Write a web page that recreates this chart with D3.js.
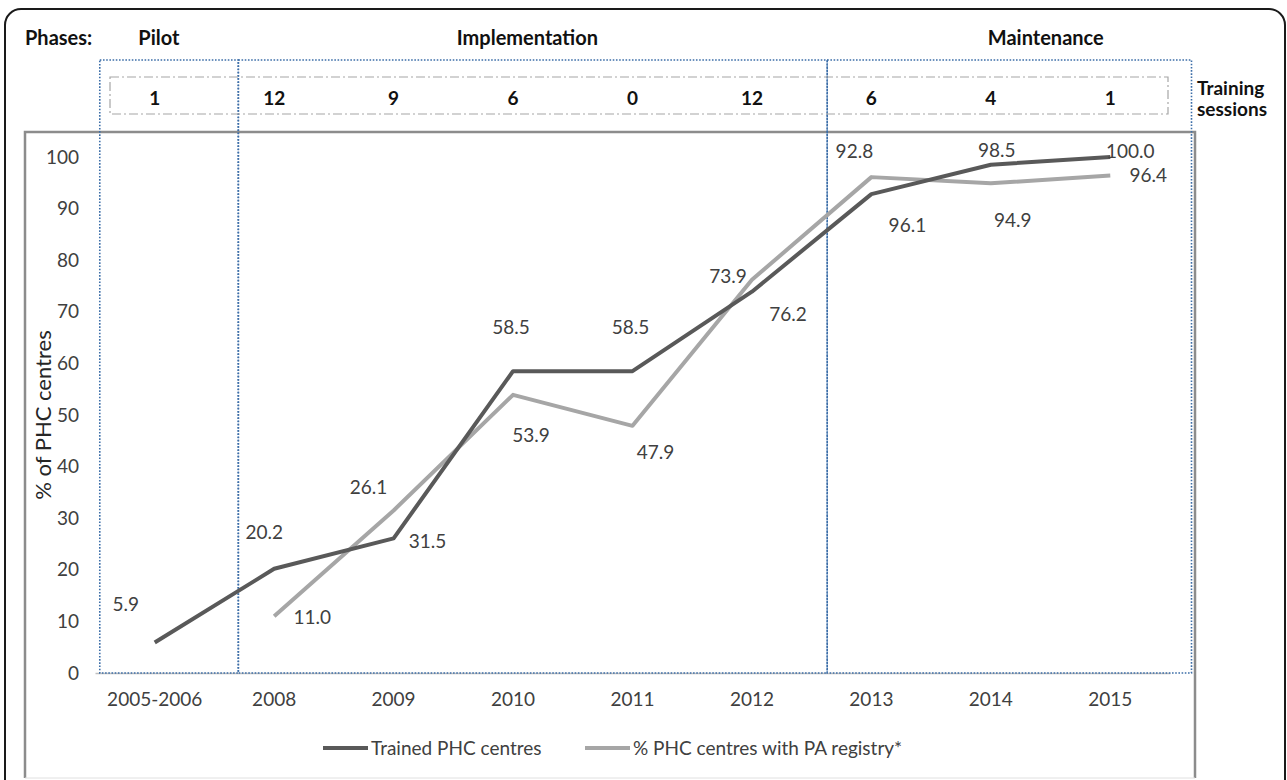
<!DOCTYPE html>
<html>
<head>
<meta charset="utf-8">
<script src="https://cdn.jsdelivr.net/npm/d3@7/dist/d3.min.js"></script>
<style>
  html, body { margin: 0; padding: 0; background: #fff; }
  svg { display: block; font-family: Lato, "Open Sans", sans-serif; }
</style>
</head>
<body>
<svg id="chart" width="1287" height="780"></svg>
<script>
// Years on the x axis
const categories = ["2005-2006", "2008", "2009", "2010", "2011", "2012", "2013", "2014", "2015"];
// % of PHC centres trained
const trainedValues = [5.9, 20.2, 26.1, 58.5, 58.5, 73.9, 92.8, 98.5, 100.0];
// % of PHC centres with a PA registry (none in the pilot year)
const registryValues = [null, 11.0, 31.5, 53.9, 47.9, 76.2, 96.1, 94.9, 96.4];
// Training sessions held per year
const trainingSessions = [1, 12, 9, 6, 0, 12, 6, 4, 1];
// Y axis ticks
const yTicks = [0, 10, 20, 30, 40, 50, 60, 70, 80, 90, 100];
// Programme phases
const phaseNames = ["Pilot", "Implementation", "Maintenance"];
const seriesNames = ["Trained PHC centres", "% PHC centres with PA registry*"];

// ---- layout (positions in band units, label nudges in px) ----
const phaseEdges = [0.04, 1.2, 6.13, 9.18];
const phaseLabelAt = [0.535, 3.62, 7.96];
const trainedLabelShift = [[-29,-38],[-10,-36],[-25,-51],[-2,-44],[-2,-44],[-24,-15],[-17,-43],[6,-14],[20,-6]];
const registryLabelShift = [null,[38,1],[34,31],[18,40],[23,27],[36,35],[36,48],[22,37],[38,0]];

const svg = d3.select("#chart");
const darkCol = "#595959", lightCol = "#a6a6a6", textCol = "#404040";

const x = d3.scaleBand().domain(categories).range([95, 1170]).paddingInner(0).paddingOuter(0);
const cx = c => x(c) + x.bandwidth() / 2;
const u = d3.scaleLinear().domain([0, categories.length]).range([95, 1170]);
const y = d3.scaleLinear().domain([0, 100]).range([673, 157]);

// outer frame
svg.append("rect").attr("x", 5).attr("y", 9).attr("width", 1280).attr("height", 820)
  .attr("rx", 16).attr("fill", "none").attr("stroke", "#1a1a1a").attr("stroke-width", 2);

// plot frame
svg.append("path").attr("d", "M25,778 L25,132 L1195,132 L1195,778")
  .attr("fill", "none").attr("stroke", "#8c8c8c").attr("stroke-width", 2.5);
svg.append("line").attr("x1", 25).attr("x2", 1195).attr("y1", 778).attr("y2", 778)
  .attr("stroke", "#e0e0e0").attr("stroke-width", 1);

// x axis
const xAxis = svg.append("g").attr("transform", "translate(0,673)")
  .call(d3.axisBottom(x).tickSize(0).tickPadding(20));
xAxis.select(".domain").attr("stroke", "#bfbfbf").attr("stroke-width", 1.5);
xAxis.selectAll("text").attr("font-size", 19).attr("fill", textCol).attr("font-family", "Lato");

// y axis
const yAxis = svg.append("g").attr("transform", "translate(95,0)")
  .call(d3.axisLeft(y).tickValues(yTicks).tickSize(0).tickPadding(16));
yAxis.select(".domain").remove();
yAxis.selectAll("text").attr("font-size", 19).attr("fill", textCol).attr("font-family", "Lato");

svg.append("text").attr("transform", "translate(43,415) rotate(-90)")
  .attr("text-anchor", "middle").attr("dy", "0.35em")
  .attr("font-size", 22).attr("fill", "#262626").text("% of PHC centres");

// phase boxes
const phaseBox = svg.append("g");
phaseNames.forEach((p, i) => {
  phaseBox.append("rect")
    .attr("x", u(phaseEdges[i])).attr("y", 60)
    .attr("width", u(phaseEdges[i + 1]) - u(phaseEdges[i])).attr("height", 673 - 60)
    .attr("fill", "none").attr("stroke", "#3c6ea8").attr("stroke-width", 1.6)
    .attr("stroke-dasharray", "1.6,1.6");
  svg.append("text").attr("x", u(phaseLabelAt[i])).attr("y", 45)
    .attr("text-anchor", "middle").attr("font-size", 20).attr("font-weight", 700)
    .attr("fill", "#111").text(p);
});
svg.append("text").attr("x", 25).attr("y", 45).attr("font-size", 20)
  .attr("font-weight", 700).attr("fill", "#111").text("Phases:");

// training sessions strip
svg.append("rect").attr("x", 110).attr("y", 77).attr("width", 1058).attr("height", 37)
  .attr("fill", "none").attr("stroke", "#a6a6a6").attr("stroke-width", 1.2)
  .attr("stroke-dasharray", "9,3,2,3");
svg.append("g").selectAll("text").data(trainingSessions).join("text")
  .attr("x", (d, i) => cx(categories[i])).attr("y", 105)
  .attr("text-anchor", "middle").attr("font-size", 19).attr("font-weight", 700)
  .attr("fill", "#111").text(d => d);
const ts = svg.append("text").attr("x", 1197).attr("font-size", 19)
  .attr("font-weight", 700).attr("fill", "#111");
ts.append("tspan").attr("x", 1197).attr("y", 95).text("Training");
ts.append("tspan").attr("x", 1197).attr("y", 116).text("sessions");

// series lines
const line = d3.line().defined(d => d.v != null).x(d => cx(d.c)).y(d => y(d.v));
const trainedPts = categories.map((c, i) => ({ c, v: trainedValues[i], s: trainedLabelShift[i] }));
const registryPts = categories.map((c, i) => ({ c, v: registryValues[i], s: registryLabelShift[i] }));

svg.append("path").datum(registryPts).attr("d", line).attr("fill", "none")
  .attr("stroke", lightCol).attr("stroke-width", 4).attr("stroke-linejoin", "round");
svg.append("path").datum(trainedPts).attr("d", line).attr("fill", "none")
  .attr("stroke", darkCol).attr("stroke-width", 4).attr("stroke-linejoin", "round");

// value labels
[trainedPts, registryPts].forEach(pts => {
  svg.append("g").selectAll("text").data(pts.filter(d => d.v != null)).join("text")
    .attr("x", d => cx(d.c) + d.s[0]).attr("y", d => y(d.v) + d.s[1])
    .attr("dy", "0.35em").attr("text-anchor", "middle")
    .attr("font-size", 19).attr("fill", textCol).text(d => d.v.toFixed(1));
});

// legend
const legend = svg.append("g").attr("transform", "translate(0,748)");
[[323, darkCol, seriesNames[0]], [585, lightCol, seriesNames[1]]].forEach(([lx, col, name]) => {
  legend.append("line").attr("x1", lx).attr("x2", lx + 45).attr("y1", 0).attr("y2", 0)
    .attr("stroke", col).attr("stroke-width", 4);
  legend.append("text").attr("x", lx + 48).attr("dy", "0.35em").attr("font-size", 19)
    .attr("fill", textCol).text(name);
});
</script>
</body>
</html>
